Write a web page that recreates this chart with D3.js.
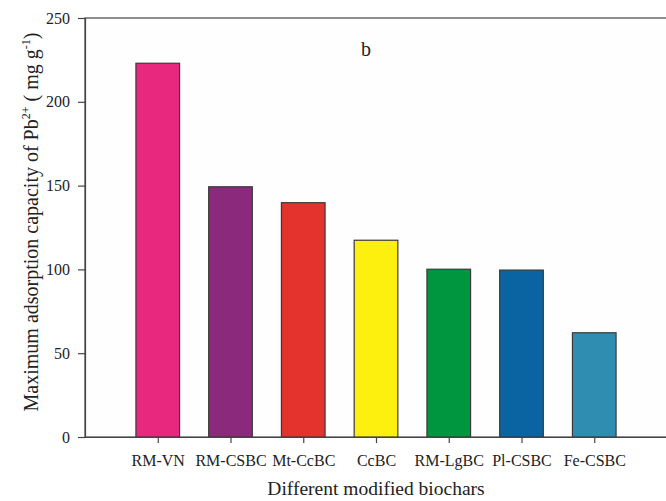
<!DOCTYPE html>
<html>
<head>
<meta charset="utf-8">
<script src="https://cdn.jsdelivr.net/npm/d3@7"></script>
<style>
  body { margin: 0; background: #fff; }
  svg { display: block; }
  text { font-family: "Liberation Serif", "Times New Roman", serif; fill: #222; }
</style>
</head>
<body>
<div id="chart"></div>
<script>
// Data
const categories = ['RM-VN', 'RM-CSBC', 'Mt-CcBC', 'CcBC', 'RM-LgBC', 'Pl-CSBC', 'Fe-CSBC'];
const capacities = [223, 149.3, 139.8, 117.4, 100.1, 99.6, 62.2];
const barColors = ['#e8287f', '#8b2a7c', '#e4322d', '#fdef0e', '#00963f', '#0a64a2', '#2e8db0'];
const yTicks = [0, 50, 100, 150, 200, 250];

const width = 666;
const height = 501;
const margin = { left: 85, top: 18, bottom: 64 };

function drawChart() {
  const svg = d3.select('#chart').append('svg').attr('width', width).attr('height', height);

  // categories sit at 1..7 on a 0..8 axis; right edge of the frame falls just off the picture
  const x = d3.scaleLinear().domain([0, 8]).range([margin.left, 667]);
  const y = d3.scaleLinear().domain([0, 250]).range([height - margin.bottom, margin.top]);
  const barWidth = (x(1) - x(0)) * 0.6;

  // plot frame
  svg.append('rect')
    .attr('x', x(0)).attr('y', y(250))
    .attr('width', x(8) - x(0)).attr('height', y(0) - y(250))
    .attr('fill', '#fefefe').attr('stroke', '#444').attr('stroke-width', 1.2);

  // bars
  svg.selectAll('.bar')
    .data(categories)
    .enter()
    .append('rect')
    .attr('class', 'bar')
    .attr('x', (d, i) => x(i + 1) - barWidth / 2)
    .attr('y', (d, i) => y(capacities[i]))
    .attr('width', barWidth)
    .attr('height', (d, i) => y(0) - y(capacities[i]))
    .attr('fill', (d, i) => barColors[i])
    .attr('stroke', '#3a3a3a')
    .attr('stroke-width', 1.2);

  // y axis
  const yAxis = d3.axisLeft(y).tickValues(yTicks).tickSize(7).tickPadding(8);
  const gy = svg.append('g').attr('transform', `translate(${margin.left},0)`).call(yAxis);
  gy.select('.domain').attr('stroke', '#444').attr('stroke-width', 1.2);
  gy.selectAll('.tick line').attr('stroke', '#444').attr('stroke-width', 1.2);
  gy.selectAll('.tick text')
    .attr('font-family', '"Liberation Serif", serif')
    .attr('font-size', 16).attr('fill', '#222');

  // x axis
  const xAxis = d3.axisBottom(x)
    .tickValues(categories.map((d, i) => i + 1))
    .tickFormat((d) => categories[d - 1])
    .tickSize(6).tickPadding(12).tickSizeOuter(0);
  const gx = svg.append('g').attr('transform', `translate(0,${y(0)})`).call(xAxis);
  gx.select('.domain').attr('stroke', '#444').attr('stroke-width', 1.2);
  gx.selectAll('.tick line').attr('stroke', '#444').attr('stroke-width', 1.2);
  gx.selectAll('.tick text')
    .attr('font-family', '"Liberation Serif", serif')
    .attr('font-size', 16).attr('fill', '#222');

  // panel label
  svg.append('text').attr('x', 366).attr('y', 56)
    .attr('text-anchor', 'middle').attr('font-size', 20).text('b');

  // x axis title
  svg.append('text').attr('x', (x(0) + x(8)) / 2).attr('y', 495)
    .attr('text-anchor', 'middle').attr('font-size', 19.5).text('Different modified biochars');

  // y axis title with superscripts
  const yt = svg.append('text')
    .attr('transform', `translate(38,222) rotate(-90)`)
    .attr('text-anchor', 'middle').attr('font-size', 20);
  yt.append('tspan').text('Maximum adsorption capacity of  Pb');
  yt.append('tspan').attr('dy', -8).attr('font-size', 12).text('2+');
  yt.append('tspan').attr('dy', 8).text(' ( mg g');
  yt.append('tspan').attr('dy', -8).attr('font-size', 12).text('-1');
  yt.append('tspan').attr('dy', 8).text(')');
}

document.addEventListener('DOMContentLoaded', drawChart);
</script>
</body>
</html>
